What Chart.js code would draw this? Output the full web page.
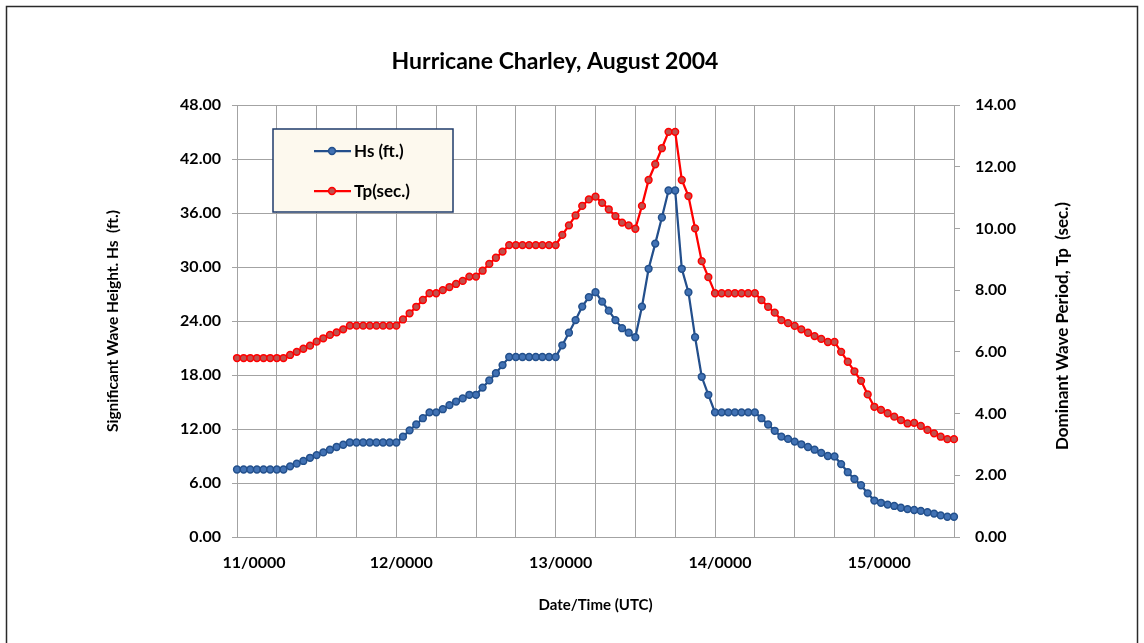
<!DOCTYPE html>
<html>
<head>
<meta charset="utf-8">
<script src="https://cdn.jsdelivr.net/npm/chart.js@4.4.1/dist/chart.umd.min.js"></script>
<style>
html, body { margin: 0; padding: 0; background: #fff; overflow: hidden; }
#wrap { width: 1144px; height: 643px; }
</style>
</head>
<body>
<div id="wrap"><canvas id="myChart" width="1144" height="643"></canvas></div>
<script>
// hourly readings, 11/0000 .. 15/1200 UTC
const days = ['11', '12', '13', '14', '15'];

// Hs (ft.) - left axis
const hsFeet = [
  7.5, 7.5, 7.5, 7.5, 7.5, 7.5, 7.5, 7.5,
  7.85, 8.15, 8.45, 8.8, 9.1, 9.4, 9.7, 10.0, 10.25,
  10.5, 10.5, 10.5, 10.5, 10.5, 10.5, 10.5, 10.5,
  11.15, 11.85, 12.5, 13.2, 13.85, 13.85, 14.2, 14.65, 15.05, 15.4, 15.8, 15.8, 16.6, 17.4, 18.2, 19.1,
  20.0, 20.0, 20.0, 20.0, 20.0, 20.0, 20.0, 20.0,
  21.3, 22.7, 24.1, 25.6, 26.65, 27.2, 26.15, 25.15, 24.1, 23.2, 22.7, 22.2,
  25.6, 29.8, 32.6, 35.5, 38.5, 38.5, 29.8, 27.2, 22.2, 17.8, 15.8,
  13.85, 13.85, 13.85, 13.85, 13.85, 13.85, 13.85,
  13.2, 12.5, 11.8, 11.15, 10.9, 10.6, 10.3, 10.0, 9.7, 9.35, 9.0, 8.95,
  8.1, 7.2, 6.45, 5.75, 4.85, 4.05, 3.8, 3.6, 3.45, 3.25, 3.1, 3.0, 2.9, 2.75, 2.6, 2.4, 2.25, 2.25
];

// Tp (sec.) - right axis
const tpSeconds = [
  5.8, 5.8, 5.8, 5.8, 5.8, 5.8, 5.8, 5.8,
  5.9, 6.0, 6.1, 6.2, 6.33, 6.44, 6.55, 6.63, 6.73,
  6.85, 6.85, 6.85, 6.85, 6.85, 6.85, 6.85, 6.85,
  7.05, 7.25, 7.46, 7.68, 7.9, 7.9, 8.0, 8.1, 8.2, 8.3, 8.44, 8.44, 8.63, 8.85, 9.05, 9.25,
  9.46, 9.46, 9.46, 9.46, 9.46, 9.46, 9.46, 9.46,
  9.79, 10.1, 10.42, 10.73, 10.94, 11.03, 10.83, 10.62, 10.4, 10.19, 10.1, 9.99,
  10.73, 11.57, 12.08, 12.6, 13.13, 13.13, 11.57, 11.05, 10.0, 8.94, 8.42,
  7.9, 7.9, 7.9, 7.9, 7.9, 7.9, 7.9,
  7.68, 7.46, 7.27, 7.03, 6.93, 6.84, 6.73, 6.62, 6.51, 6.42, 6.32, 6.32,
  6.0, 5.68, 5.37, 5.06, 4.62, 4.22, 4.12, 4.01, 3.9, 3.79, 3.68, 3.7, 3.6, 3.47, 3.36, 3.25, 3.17, 3.17
];

const timeLabels = [];
days.forEach(d => {
    for (let h = 0; h < 24; h++) timeLabels.push(d + '/' + String(h).padStart(2, '0') + '00');
});
timeLabels.length = hsFeet.length;

const gridGray = '#a3a3a3';
const tickFont = { family: 'Lato', size: 16, weight: 'bold' };
const axisTitleFont = { family: 'Lato', size: 15, weight: 'bold' };

// white background, outer frame and chart title
const frame = {
    id: 'frame',
    beforeDraw(chart) {
        const c = chart.ctx;
        c.save();
        c.fillStyle = '#fff';
        c.fillRect(0, 0, chart.width, chart.height);
        c.strokeStyle = '#2a2a2a';
        c.lineWidth = 1.5;
        c.strokeRect(6.5, 6.5, 1131, 700);
        c.fillStyle = '#000';
        c.font = 'bold 23px Lato';
        c.textAlign = 'center';
        c.textBaseline = 'middle';
        c.fillText('Hurricane Charley, August 2004', 555, 62);
        c.restore();
    }
};

// legend box inside the plot, like the Excel one
const boxLegend = {
    id: 'boxLegend',
    afterDraw(chart) {
        const c = chart.ctx;
        const a = chart.chartArea;
        const x = a.left + 36, y = a.top + 24, w = 180, h = 83;
        c.save();
        c.fillStyle = '#fdf9ee';
        c.fillRect(x, y, w, h);
        c.strokeStyle = '#1f3b6b';
        c.lineWidth = 1.5;
        c.strokeRect(x, y, w, h);
        chart.data.datasets.forEach((ds, i) => {
            const ly = y + 22 + i * 40;
            c.strokeStyle = ds.borderColor;
            c.lineWidth = 2.25;
            c.beginPath();
            c.moveTo(x + 41, ly);
            c.lineTo(x + 78, ly);
            c.stroke();
            c.beginPath();
            c.arc(x + 59, ly, 3.4, 0, Math.PI * 2);
            c.fillStyle = ds.pointBackgroundColor;
            c.fill();
            c.lineWidth = 1.5;
            c.strokeStyle = ds.pointBorderColor;
            c.stroke();
            c.fillStyle = '#000';
            c.font = 'bold 17px Lato';
            c.textBaseline = 'middle';
            c.fillText(ds.label, x + 81, ly + 1);
        });
        c.restore();
    }
};

// right axis title reads bottom-to-top in the original
const rightTitle = {
    id: 'rightTitle',
    afterDraw(chart) {
        const c = chart.ctx;
        const a = chart.chartArea;
        c.save();
        c.translate(1063, 326);
        c.rotate(-Math.PI / 2);
        c.fillStyle = '#000';
        c.font = 'bold 17px Lato';
        c.textAlign = 'center';
        c.textBaseline = 'middle';
        c.fillText('Dominant Wave Period, Tp  (sec.)', 0, 0);
        c.restore();
    }
};

const ctx = document.getElementById('myChart').getContext('2d');

new Chart(ctx, {
    type: 'line',
    data: {
        labels: timeLabels,
        datasets: [{
            label: 'Hs (ft.)',
            data: hsFeet,
            yAxisID: 'y',
            borderColor: '#234f8c',
            borderWidth: 2.25,
            pointRadius: 3.4,
            pointBorderWidth: 1.5,
            pointBackgroundColor: '#4272b4',
            pointBorderColor: '#23508c',
            tension: 0
        }, {
            label: 'Tp(sec.)',
            data: tpSeconds,
            yAxisID: 'y1',
            borderColor: '#ff0000',
            borderWidth: 2.25,
            pointRadius: 3.4,
            pointBorderWidth: 1.5,
            pointBackgroundColor: '#c0504d',
            pointBorderColor: '#ff0000',
            tension: 0
        }]
    },
    options: {
        responsive: false,
        animation: false,
        layout: { padding: { left: 100, right: 68, top: 105, bottom: 25 } },
        plugins: {
            legend: { display: false },
            tooltip: { enabled: false },
            title: { display: false }
        },
        scales: {
            x: {
                type: 'category',
                offset: false,
                afterFit: s => { s.height = 81; },
                grid: {
                    color: c => (c.index % 6 === 0 ? gridGray : 'rgba(0,0,0,0)'),
                    drawTicks: false
                },
                border: { color: gridGray },
                ticks: {
                    autoSkip: false,
                    maxRotation: 0,
                    minRotation: 0,
                    padding: 16,
                    labelOffset: 5,
                    color: '#000',
                    font: tickFont,
                    // Excel nudges the first day label inward
                    callback: function (v, i) {
                        if (i % 24 !== 0) return '';
                        return (i === 0 ? '\u2003\u2003' : '') + this.getLabelForValue(v);
                    }
                },
                title: {
                    display: true,
                    text: 'Date/Time (UTC)',
                    color: '#000',
                    font: axisTitleFont
                }
            },
            y: {
                position: 'left',
                min: 0,
                max: 48,
                afterFit: s => { s.width = 137; },
                grid: { color: gridGray, tickLength: 5 },
                border: { color: gridGray },
                ticks: {
                    stepSize: 6,
                    padding: 11,
                    color: '#000',
                    font: tickFont,
                    callback: v => v.toFixed(2)
                },
                title: {
                    display: true,
                    text: 'Significant Wave Height. Hs  (ft.)',
                    color: '#000',
                    font: { family: 'Lato', size: 15.5, weight: 'bold' }
                }
            },
            y1: {
                position: 'right',
                min: 0,
                max: 14,
                afterFit: s => { s.width = 122; },
                grid: { drawOnChartArea: false, color: gridGray, tickLength: 6 },
                border: { color: gridGray },
                ticks: {
                    stepSize: 2,
                    padding: 15,
                    color: '#000',
                    font: tickFont,
                    callback: v => v.toFixed(2)
                }
            }
        }
    },
    plugins: [frame, boxLegend, rightTitle]
});
</script>
</body>
</html>
